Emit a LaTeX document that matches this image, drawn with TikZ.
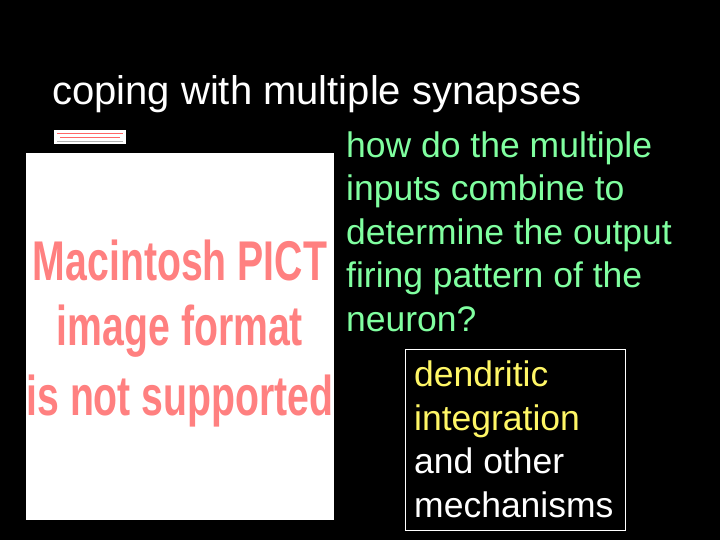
\documentclass[tikz,border=0pt]{standalone}
\usepackage{fontspec}
\setmainfont{Liberation Sans}
\begin{document}
\begin{tikzpicture}[x=1pt,y=-1pt,
  txt/.style={anchor=base west,inner sep=0pt,font=\fontsize{35.5}{43.5}\selectfont,align=left},
  pict/.style={font=\bfseries\fontsize{56}{70}\selectfont,text=red!50!white,xscale=0.7,inner sep=0pt}]
\useasboundingbox[fill=black] (0,0) rectangle (720,540);
\node[anchor=base west,inner sep=0pt,text=white,font=\fontsize{40}{44}\selectfont] (title) at (52,105) {coping with multiple synapses};
\node[fill=white,minimum width=72,minimum height=14,inner sep=0pt,anchor=north west] (thumb) at (54,130) {};
\draw[red!60,line width=0.8] (57,133)--(123,133) (60,137)--(120,137);
\draw[gray!60,line width=0.5] (57,141)--(123,141);
\node[fill=white,minimum width=308,minimum height=367,inner sep=0pt,anchor=north west] (img) at (26,153) {};
\node[pict] (p1) at (180,260) {Macintosh PICT};
\node[pict] (p2) at (180,331) {image format};
\node[pict] (p3) at (180,401) {is not supported};
\node[txt,text={rgb,255:red,128;green,255;blue,160}] (q) at (346,331) {how do the multiple\\inputs combine to\\determine the output\\firing pattern of the\\neuron?};
\draw[white,line width=0.8] (405,349) rectangle (625,530);
\node[txt,text=white] (box) at (414,517) {\textcolor{yellow!60!white}{dendritic}\\\textcolor{yellow!60!white}{integration}\\and other\\mechanisms};
\end{tikzpicture}
\end{document}
